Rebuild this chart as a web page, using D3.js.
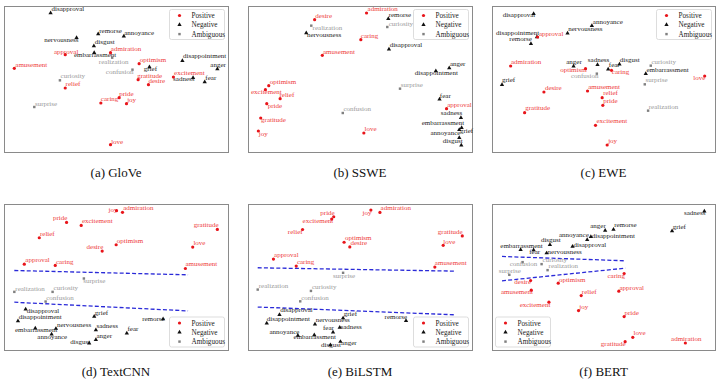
<!DOCTYPE html>
<html>
<head>
<meta charset="utf-8">
<script src="https://cdn.jsdelivr.net/npm/d3@7"></script>
<style>
  body { margin: 0; background: #fff; }
  svg { display: block; font-family: "Liberation Serif", "DejaVu Serif", serif; }
</style>
</head>
<body>
<svg class="chart"></svg>
<script>
var W = 720, H = 384;

// emotion groups
var positive = ["admiration","amusement","approval","caring","desire","excitement","gratitude","joy","love","optimism","pride","relief"];
var negative = ["anger","annoyance","disappointment","disapproval","disgust","embarrassment","fear","grief","nervousness","remorse","sadness"];
var ambiguous = ["confusion","curiosity","realization","surprise"];
var legendNames = ["Positive","Negative","Ambiguous"];

var captions = ["(a) GloVe","(b) SSWE","(c) EWE","(d) TextCNN","(e) BiLSTM","(f) BERT"];

// projected points: [word, x, y, label x, label y] (2-D projection units)
var glove = [
  ["disapproval",152,38,155,33],["remorse",295,101,298,97],["annoyance",372,108,373,104],
  ["nervousness",230,112,133,124],["disgust",282,137,285,132],["approval",196,163,162,160],
  ["admiration",332,157,333,153],["embarrassment",283,157,222,170],["realization",337,172,297,190],
  ["amusement",43,204,46,199],["optimism",418,190,420,185],["disappointment",548,181,550,174],
  ["anger",653,206,632,200],["confusion",398,208,318,221],["grief",449,200,432,213],
  ["excitement",521,230,523,225],["sadness",580,232,520,243],["fear",615,245,617,240],
  ["gratitude",415,238,412,233],["desire",446,253,446,248],["curiosity",180,240,182,234],
  ["relief",196,263,197,258],["pride",358,292,358,287],["caring",303,308,303,303],
  ["joy",380,310,382,305],["surprise",103,320,105,316],["love",332,433,334,430]
];
var sswe = [
  ["admiration",378,38,381,32],["desire",223,58,225,52],["remorse",443,55,444,50],
  ["curiosity",440,80,444,76],["realization",213,76,217,90],["nervousness",198,98,200,110],
  ["caring",361,118,361,113],["disapproval",445,147,447,140],["amusement",246,165,248,160],
  ["anger",625,203,627,198],["disappointment",585,212,522,223],["surprise",478,265,480,260],
  ["optimism",86,256,89,250],["excitement",76,268,33,282],["relief",120,295,118,289],
  ["fear",596,297,597,292],["pride",80,310,83,324],["confusion",307,338,309,333],
  ["approval",617,325,619,320],["sadness",660,352,600,345],["embarrassment",662,382,543,375],
  ["gratitude",62,353,63,366],["grief",655,388,657,398],["love",370,398,372,392],
  ["annoyance",655,412,569,405],["joy",55,392,56,406],["disgust",661,435,606,429]
];
var ewe = [
  ["disapproval",160,40,67,50],["annoyance",335,76,338,70],["nervousness",262,99,264,92],
  ["disappointment",170,110,47,104],["approval",172,110,176,106],["remorse",152,130,87,122],
  ["admiration",91,197,92,190],["anger",280,198,258,192],["sadness",352,193,323,186],
  ["fear",384,207,386,200],["disgust",418,192,419,186],["curiosity",512,196,514,190],
  ["optimism",316,205,240,216],["confusion",350,220,272,232],["caring",394,210,395,222],
  ["embarrassment",497,220,499,214],["love",674,227,640,240],["grief",65,253,65,245],
  ["surprise",494,252,496,246],["desire",191,275,194,270],["amusement",322,272,324,266],
  ["relief",366,292,369,285],["pride",368,315,369,308],["gratitude",133,337,135,330],
  ["realization",504,331,506,326],["excitement",346,375,349,369],["joy",381,434,384,428]
];
var textcnn = [
  ["joy",350,108,326,111],["admiration",368,113,370,106],["pride",200,143,159,137],
  ["excitement",244,152,246,145],["gratitude",653,164,582,158],["relief",118,189,120,184],
  ["optimism",349,210,351,204],["desire",307,229,260,222],["love",579,217,581,212],
  ["approval",73,268,76,263],["caring",166,272,168,267],["amusement",557,281,557,274],
  ["surprise",252,311,250,323],["realization",43,351,46,347],["curiosity",158,351,161,344],
  ["confusion",137,380,139,374],["disapproval",77,403,80,413],["disappointment",54,438,56,432],
  ["grief",283,425,285,419],["remorse",490,432,427,439],["nervousness",168,461,171,455],
  ["embarrassment",106,460,45,472],["sadness",288,465,290,460],["fear",381,475,383,468],
  ["annoyance",155,478,112,491],["anger",288,494,290,489],["disgust",268,505,211,507]
];
var bilstm = [
  ["joy",391,108,366,122],["admiration",418,115,420,109],["pride",280,128,240,124],
  ["excitement",274,135,187,146],["relief",187,166,143,179],["optimism",311,204,314,198],
  ["desire",328,218,330,213],["gratitude",664,185,591,180],["love",607,213,607,209],
  ["approval",100,254,102,248],["caring",168,275,170,270],["amusement",582,278,582,273],
  ["surprise",308,295,278,310],["realization",53,345,56,340],["curiosity",212,349,215,344],
  ["confusion",180,380,183,375],["disapproval",118,420,120,413],["disappointment",80,445,80,440],
  ["grief",308,430,310,423],["remorse",496,438,432,432],["nervousness",224,448,226,443],
  ["sadness",298,458,300,461],["fear",278,472,248,466],["annoyance",173,482,88,476],
  ["embarrassment",222,480,160,491],["anger",300,500,302,511],["disgust",270,510,242,517]
];
var bert = [
  ["sadness",673,110,612,122],["grief",576,169,578,162],["anger",375,167,330,160],
  ["remorse",400,164,402,158],["annoyance",321,195,236,188],["disappointment",332,186,335,190],
  ["disgust",209,210,182,203],["disapproval",277,215,280,217],["embarrassment",121,225,60,219],
  ["fear",160,226,147,237],["nervousness",199,235,202,238],["curiosity",184,268,187,262],
  ["confusion",127,262,88,274],["realization",202,286,205,280],["surprise",87,300,55,294],
  ["caring",432,296,382,308],["desire",151,317,102,328],["optimism",234,325,236,320],
  ["amusement",153,346,62,358],["relief",303,362,305,357],["approval",416,349,418,344],
  ["excitement",206,382,118,395],["joy",295,407,297,401],["pride",432,425,433,419],
  ["love",458,487,460,480],["gratitude",435,500,362,512],["admiration",616,504,573,498]
];

// projection extents [x range, y range] per panel
var extents = [
  [[12,685],[17,455]], [[24,693],[17,455]], [[35,705],[17,455]],
  [[12,685],[88,525]], [[24,693],[90,525]], [[35,705],[88,525]]
];

// dashed separators for the fine-tuned models
var separators = [
  null, null, null,
  [[[43,287],[565,300]], [[43,382],[565,408]]],
  [[[53,280],[640,290]], [[53,397],[640,420]]],
  [[[65,245],[436,258]], [[65,318],[436,280]]]
];

var allWords = [glove, sswe, ewe, textcnn, bilstm, bert];

// ---- layout ----
var boxes = [
  {x:4, y:6, w:224, h:146}, {x:248, y:6, w:224, h:146}, {x:492, y:6, w:223, h:146},
  {x:4, y:204, w:224, h:146}, {x:248, y:204, w:224, h:146}, {x:492, y:204, w:223, h:146}
];
var legendPos = ["tr","tr","tr","br","br","bl"];

var markColor = {pos:"#e8141a", neg:"#111", amb:"#808080"};
var textColor = {pos:"#ee3b3b", neg:"#222", amb:"#9a9a9a"};

function groupOf(w){
  if(positive.indexOf(w) >= 0) return "pos";
  if(negative.indexOf(w) >= 0) return "neg";
  return "amb";
}

function drawMarker(g, grp, cx, cy){
  if(grp == "pos"){
    g.append("circle").attr("cx",cx).attr("cy",cy).attr("r",1.6).attr("fill",markColor.pos);
  } else {
    var sym = grp == "neg" ? d3.symbolTriangle : d3.symbolSquare;
    g.append("path")
      .attr("d", d3.symbol().type(sym).size(grp == "neg" ? 8 : 6)())
      .attr("transform","translate(" + cx + "," + cy + ")")
      .attr("fill", markColor[grp]);
  }
}

var svg = d3.select(".chart").attr("width",W).attr("height",H);

boxes.forEach(function(b, i){
  var ext = extents[i];
  var x = d3.scaleLinear().domain(ext[0]).range([b.x, b.x + b.w]);
  var y = d3.scaleLinear().domain(ext[1]).range([b.y, b.y + b.h]);
  var g = svg.append("g");

  g.append("rect")
    .attr("x",b.x + 0.5).attr("y",b.y + 0.5)
    .attr("width",b.w).attr("height",b.h)
    .attr("fill","#fff").attr("stroke","#8a8a8a").attr("stroke-width",1);

  if(separators[i]){
    separators[i].forEach(function(s){
      g.append("line")
        .attr("x1",x(s[0][0])).attr("y1",y(s[0][1]))
        .attr("x2",x(s[1][0])).attr("y2",y(s[1][1]))
        .attr("stroke","#2a2ad8").attr("stroke-width",1.3)
        .attr("stroke-dasharray","4,2.2");
    });
  }

  var words = allWords[i];
  words.forEach(function(d){
    var grp = groupOf(d[0]);
    g.append("text")
      .attr("x", x(d[3])).attr("y", y(d[4]))
      .attr("fill", textColor[grp])
      .style("font-size","7px")
      .text(d[0]);
  });
  words.forEach(function(d){
    drawMarker(g, groupOf(d[0]), x(d[1]), y(d[2]));
  });

  // legend
  var lw = 55, lh = 30;
  var lx = legendPos[i] == "bl" ? b.x + 3.5 : b.x + b.w - lw - 3.5;
  var ly = legendPos[i] == "tr" ? b.y + 3.5 : b.y + b.h - lh - 3;
  var lg = g.append("g");
  lg.append("rect")
    .attr("x",lx).attr("y",ly).attr("width",lw).attr("height",lh)
    .attr("rx",2).attr("fill","#fff").attr("stroke","#d4d4d4").attr("stroke-width",0.8);
  ["pos","neg","amb"].forEach(function(grp, k){
    var ry = ly + 6 + k * 9.3;
    drawMarker(lg, grp, lx + 10, ry);
    lg.append("text")
      .attr("x", lx + 22).attr("y", ry + 2.5)
      .attr("fill","#222")
      .style("font-size","7.2px")
      .text(legendNames[k]);
  });

  svg.append("text")
    .attr("x", b.x + b.w / 2)
    .attr("y", i < 3 ? 177 : 376)
    .attr("text-anchor","middle")
    .attr("fill","#111")
    .style("font-size","13px")
    .text(captions[i]);
});
</script>
</body>
</html>
